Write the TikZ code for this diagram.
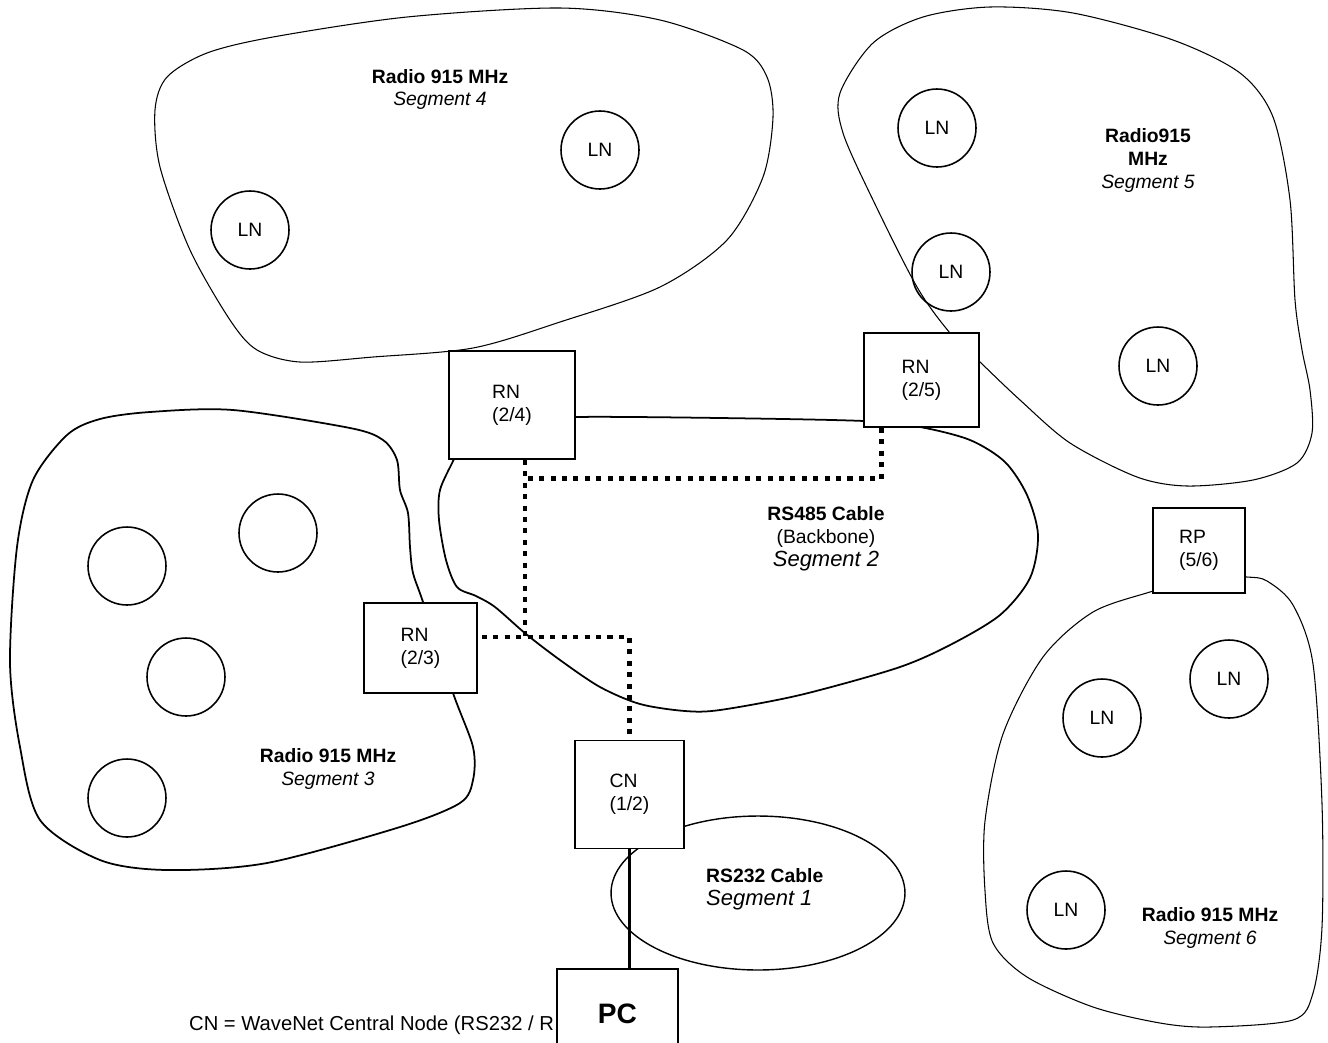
\documentclass[tikz,border=0pt]{standalone}
\usepackage{fontspec}
\setmainfont{Liberation Sans}
\usetikzlibrary{calc}
\tikzset{
  nodebox/.style={draw,rectangle,line width=1pt,fill=white,inner sep=0pt,align=left},
  leaf/.style={draw,circle,line width=0.9pt,minimum size=1.56cm,inner sep=0pt},
  region/.style={line width=0.6pt},
  heavyregion/.style={line width=1pt},
  bus/.style={line width=2.8pt,dash pattern=on 2.9pt off 3.6pt},
  serial/.style={line width=1.7pt},
  seglabel/.style={align=center}
}
\newcommand{\segit}[1]{{\fontsize{12.5}{14}\selectfont\itshape #1}}

\begin{document}
\begin{tikzpicture}[x=0.02cm,y=-0.02cm,font=\fontsize{11}{13}\selectfont]
  \useasboundingbox (0,0) rectangle (1328,1042);

  % radio and cable segments
  \draw[region] plot[smooth cycle] coordinates {(155,110) (167,77) (207,53) (273,37) (407,17) (560,8) (660,20) (743,50) (767,77) (773,117) (763,177) (727,240) (660,287) (560,322) (473,348) (373,357) (300,362) (257,350) (230,320) (190,250) (160,167)};
  \draw[region] plot[smooth cycle] coordinates {(840,93) (873,43) (923,17) (990,7) (1073,13) (1173,40) (1240,73) (1273,117) (1290,200) (1295,300) (1302,350) (1310,390) (1312,433) (1297,463) (1253,480) (1187,486) (1137,477) (1070,443) (1020,400) (980,362) (950,333) (917,287) (873,200) (843,133)};
  \draw[heavyregion] plot[smooth cycle] coordinates {(454,459) (462,440) (500,422) (575,417) (720,418) (864,421) (920,427) (970,440) (1005,462) (1027,495) (1038,535) (1030,578) (1000,615) (950,645) (897,668) (800,695) (720,710) (685,711) (640,704) (600,687) (560,660) (526,634) (495,607) (476,596) (457,587) (446,560) (439,520) (440,490)};
  \draw[heavyregion] plot[smooth cycle] coordinates {(33,480) (67,435) (100,419) (150,412) (233,410) (350,428) (383,440) (397,460) (400,490) (408,513) (410,547) (413,573) (423,602) (453,693) (473,747) (473,780) (460,803) (400,827) (267,863) (167,870) (100,860) (40,820) (20,747) (10,663) (17,547)};
  \draw[region] plot[smooth cycle] coordinates {(1153,591) (1093,612) (1043,657) (1003,734) (985,821) (985,891) (993,943) (1027,977) (1093,1007) (1160,1023) (1210,1027) (1293,1020) (1313,993) (1322,927) (1322,804) (1313,664) (1293,605) (1267,581) (1247,577) (1200,576)};
  \draw[line width=0.8pt] (758,893) ellipse [x radius=2.94cm, y radius=1.54cm];

  % leaf nodes
  \node[leaf] (ln4a) at (250,230) {LN};
  \node[leaf] (ln4b) at (600,150) {LN};
  \node[leaf] (ln5a) at (937,128) {LN};
  \node[leaf] (ln5b) at (951,272) {LN};
  \node[leaf] (ln5c) at (1158,366) {LN};
  \node[leaf] (ln3a) at (127,566) {};
  \node[leaf] (ln3b) at (278,533) {};
  \node[leaf] (ln3c) at (186,677) {};
  \node[leaf] (ln3d) at (127,798) {};
  \node[leaf] (ln6a) at (1102,718) {LN};
  \node[leaf] (ln6b) at (1229,679) {LN};
  \node[leaf] (ln6c) at (1066,910) {LN};

  % repeaters and central node
  \node[nodebox,minimum width=2.52cm,minimum height=2.16cm] (rn24) at (512,405) {RN\\(2/4)};
  \node[nodebox,minimum width=2.30cm,minimum height=1.88cm] (rn25) at (921.5,380) {RN\\(2/5)};
  \node[nodebox,minimum width=2.26cm,minimum height=1.80cm] (rn23) at (420.5,648) {RN\\(2/3)};
  \node[nodebox,minimum width=2.18cm,minimum height=2.16cm] (cn) at (629.5,794.5) {CN\\(1/2)};
  \node[nodebox,minimum width=1.84cm,minimum height=1.70cm] (rp) at (1199,550.5) {RP\\(5/6)};

  % RS485 backbone
  \coordinate (jn) at ($(rn24.south)+(13,178)$);
  \draw[bus] ($(rn25.south)+(-40,0)$) |- ($(rn24.south)+(13,19)$);
  \draw[bus] ($(rn24.south)+(13,0)$) -- (jn);
  \draw[bus] ($(rn23.east)+(4,-11)$) -| (cn.north);

  % segment labels
  \node[seglabel] (seg4) at (440,89.5) {\textbf{Radio 915 MHz}\\\textit{Segment 4}};
  \node[seglabel] (seg5) at (1148,160.5) {\textbf{Radio915}\\\textbf{MHz}\\\textit{Segment 5}};
  \node[seglabel] (seg2) at (826,539) {\textbf{RS485 Cable}\\(Backbone)\\\segit{Segment 2}};
  \node[seglabel] (seg3) at (328,769) {\textbf{Radio 915 MHz}\\\textit{Segment 3}};
  \node[seglabel] (seg6) at (1210,928) {\textbf{Radio 915 MHz}\\\textit{Segment 6}};
  \node[align=left,anchor=west] (seg1) at (700,889.5) {\textbf{RS232 Cable}\\\segit{Segment 1}};

  \node[anchor=west,font=\fontsize{11.5}{13}\selectfont] (legend) at (183,1025) {CN = WaveNet Central Node (RS232 / R};
  \node[nodebox,minimum width=2.42cm,minimum height=1.80cm,align=center,font=\fontsize{16}{18}\selectfont\bfseries] (pc) at (617.5,1014) {PC};
  \draw[serial] (cn.south) -- (cn.south |- pc.north);
\end{tikzpicture}
\end{document}
